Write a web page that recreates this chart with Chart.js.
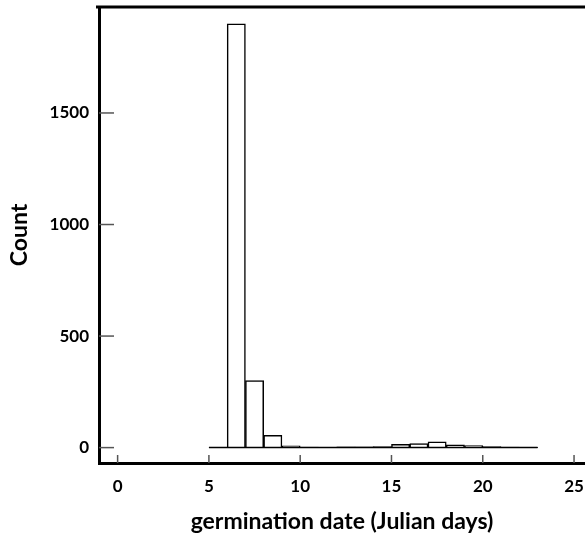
<!DOCTYPE html>
<html>
<head>
<meta charset="utf-8">
<script src="https://cdn.jsdelivr.net/npm/chart.js@4"></script>
<style>
  html, body { margin: 0; padding: 0; background: #fff; }
  #wrap { width: 585px; height: 540px; }
</style>
</head>
<body>
<div id="wrap"><canvas id="histChart"></canvas></div>
<script>
// histogram bins (start day of each 1-day bin) and counts
const binStarts = [5, 6, 7, 8, 9, 10, 11, 12, 13, 14, 15, 16, 17, 18, 19, 20, 21, 22];
const binWidth = 1;
const counts = [0, 1900, 300, 55, 8, 2, 1, 3, 4, 5, 15, 18, 26, 12, 9, 5, 2, 1];
const xTicks = [0, 5, 10, 15, 20, 25];
const yTicks = [0, 500, 1000, 1500];

const labelFont = { family: "Lato", size: 17, weight: "bold" };
const titleFont = { family: "Lato", size: 23, weight: "bold" };

// inward tick marks plus the top edge of the frame
const frameAndTicks = {
    id: "frameAndTicks",
    afterDraw(chart) {
        const ctx = chart.ctx;
        const a = chart.chartArea;
        const x = chart.scales.x;
        const y = chart.scales.y;
        ctx.save();
        ctx.strokeStyle = "#555";
        ctx.lineWidth = 1.5;
        yTicks.forEach(v => {
            const py = y.getPixelForValue(v);
            ctx.beginPath();
            ctx.moveTo(a.left, py);
            ctx.lineTo(a.left + 15, py);
            ctx.stroke();
        });
        xTicks.forEach(v => {
            const px = x.getPixelForValue(v);
            ctx.beginPath();
            ctx.moveTo(px, a.bottom);
            ctx.lineTo(px, a.bottom - 8);
            ctx.stroke();
        });
        ctx.strokeStyle = "#000";
        ctx.lineWidth = 3;
        ctx.beginPath();
        ctx.moveTo(a.left - 3, a.top);
        ctx.lineTo(a.right, a.top);
        ctx.stroke();
        ctx.restore();
    }
};

// no extra room for edge labels, the frame runs to the canvas edge
function noEdgePadding(s) {
    s.paddingLeft = 0;
    s.paddingRight = 0;
    s.paddingTop = 0;
    s.paddingBottom = 0;
}

new Chart("histChart", {
    type: "bar",
    data: {
        datasets: [{
            type: "line",
            data: [
                { x: binStarts[0], y: 0 },
                { x: binStarts[binStarts.length - 1] + binWidth, y: 0 }
            ],
            borderColor: "#000",
            borderWidth: 1.5,
            pointRadius: 0,
            order: 0
        }, {
            data: binStarts.map((s, i) => ({ x: s + binWidth / 2, y: counts[i] })),
            backgroundColor: "#fff",
            borderColor: "#000",
            borderWidth: 1.5,
            barPercentage: 1,
            categoryPercentage: 1,
            order: 1
        }]
    },
    options: {
        responsive: true,
        maintainAspectRatio: false,
        animation: false,
        layout: { padding: { top: 7, right: 0, left: 0, bottom: 0 } },
        plugins: {
            legend: { display: false },
            tooltip: { enabled: false }
        },
        scales: {
            x: {
                type: "linear",
                offset: false,
                min: -1.02,
                max: 25.6,
                afterBuildTicks: s => { s.ticks = xTicks.map(v => ({ value: v })); },
                afterFit: s => { s.height = 77; noEdgePadding(s); },
                grid: { display: false, drawTicks: false },
                border: { display: true, color: "#000", width: 3 },
                ticks: { color: "#000", font: labelFont, padding: 13, maxRotation: 0, callback: v => String(v) },
                title: {
                    display: true,
                    text: "germination date (Julian days)",
                    color: "#000",
                    font: titleFont,
                    padding: { top: 0, bottom: 5 }
                }
            },
            y: {
                min: -69,
                max: 1975,
                afterBuildTicks: s => { s.ticks = yTicks.map(v => ({ value: v })); },
                afterFit: s => { s.width = 99; noEdgePadding(s); },
                grid: { display: false, drawTicks: false },
                border: { display: true, color: "#000", width: 3 },
                ticks: { color: "#000", font: labelFont, padding: 10, callback: v => String(v) },
                title: {
                    display: true,
                    text: "Count",
                    color: "#000",
                    font: titleFont,
                    padding: { top: 6, bottom: 0 }
                }
            }
        }
    },
    plugins: [frameAndTicks]
});
</script>
</body>
</html>
